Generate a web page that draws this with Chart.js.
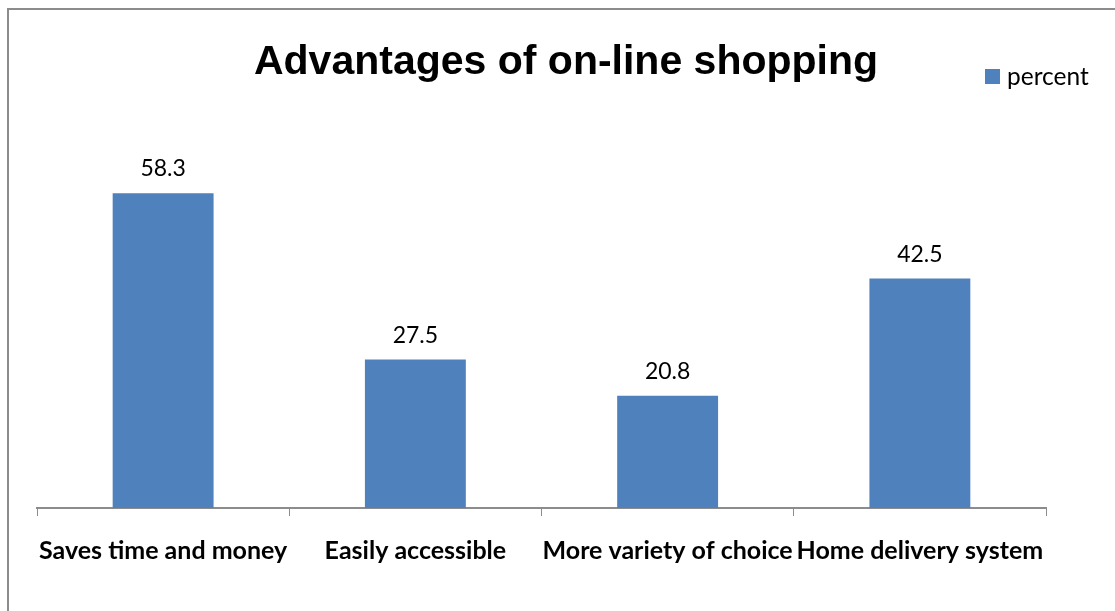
<!DOCTYPE html>
<html>
<head>
<meta charset="utf-8">
<script src="https://cdn.jsdelivr.net/npm/chart.js@4.4.1/dist/chart.umd.min.js"></script>
<style>
  html, body { margin: 0; padding: 0; background: #fff; }
  #wrap { width: 1115px; height: 611px; }
</style>
</head>
<body>
<div id="wrap"><canvas id="advChart" width="1115" height="611"></canvas></div>
<script>
const categories = ["Saves time and money", "Easily accessible", "More variety of choice", "Home delivery system"]
const percent = [58.3, 27.5, 20.8, 42.5]
const seriesName = "percent"
const chartTitle = "Advantages of on-line shopping"

// frame, title, legend and value labels
const extras = {
    id: "extras",
    afterDraw(chart) {
        const c = chart.ctx
        c.save()
        c.strokeStyle = "#8c8c8c"
        c.lineWidth = 2
        c.strokeRect(8, 9, 1200, 700)

        c.fillStyle = "#000"
        c.font = "bold 41px 'Liberation Sans', Arial, sans-serif"
        c.textAlign = "center"
        c.textBaseline = "middle"
        c.fillText(chartTitle, 566, 63)

        c.fillStyle = "#4f81bd"
        c.fillRect(985, 69, 15, 15)
        c.fillStyle = "#000"
        c.font = "24.5px Lato, 'Open Sans', sans-serif"
        c.textAlign = "left"
        c.fillText(seriesName, 1007, 77)

        const meta = chart.getDatasetMeta(0)
        c.font = "23px Lato, 'Open Sans', sans-serif"
        c.textAlign = "center"
        c.textBaseline = "alphabetic"
        meta.data.forEach((bar, i) => {
            c.fillText(percent[i].toFixed(1), bar.x, bar.y - 17)
        })
        c.restore()
    }
}

const ctx = document.getElementById("advChart")

new Chart(ctx, {
    type: "bar",
    data: {
        labels: categories,
        datasets: [{
            label: seriesName,
            data: percent,
            backgroundColor: "#4f81bd",
            borderWidth: 0,
            barPercentage: 0.4,
            categoryPercentage: 1
        }]
    },
    options: {
        responsive: false,
        animation: false,
        layout: { padding: { left: 37, right: 69, top: 130, bottom: 25 } },
        plugins: {
            legend: { display: false },
            title: { display: false },
            tooltip: { enabled: false }
        },
        scales: {
            x: {
                grid: { display: true, drawOnChartArea: false, drawTicks: true, tickLength: 8, color: "#8c8c8c", offset: true },
                border: { display: true, color: "#8c8c8c", width: 2 },
                ticks: {
                    color: "#000",
                    padding: 20,
                    maxRotation: 0,
                    autoSkip: false,
                    font: { family: "Lato, 'Open Sans', sans-serif", size: 25, weight: "bold" }
                }
            },
            y: {
                display: false,
                min: 0,
                max: 70
            }
        }
    },
    plugins: [extras]
})
</script>
</body>
</html>
